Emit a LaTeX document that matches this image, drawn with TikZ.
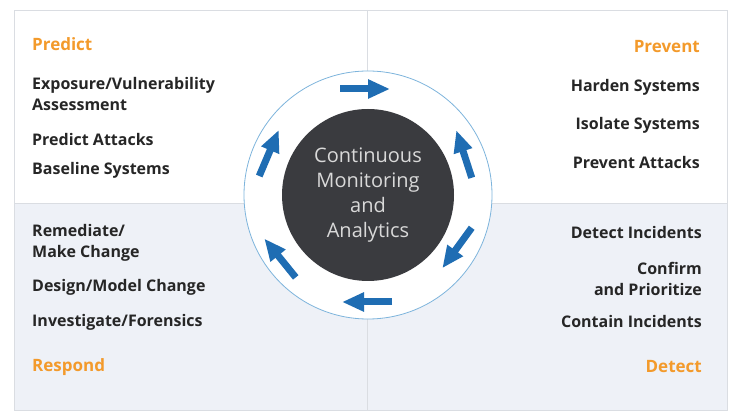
\documentclass[tikz,border=0pt]{standalone}
\usepackage{fontspec}
\setmainfont{Open Sans}
\usetikzlibrary{arrows.meta,calc}
\definecolor{orangehead}{HTML}{F39A2B}
\definecolor{cyclearrow}{HTML}{1F6DB3}
\definecolor{ringblue}{HTML}{7DB4DC}
\definecolor{corecircle}{HTML}{3A3B3F}
\definecolor{lowfill}{HTML}{EEF1F7}
\definecolor{gridline}{HTML}{DADDE2}
\tikzset{
  heading/.style={font=\fontsize{17}{20}\selectfont\bfseries, text=orangehead, inner sep=0pt},
  item/.style={font=\fontsize{16}{21}\selectfont\bfseries, text=black!85, inner sep=0pt},
  cycle arrow/.style={draw=cyclearrow, line width=7pt, -{Triangle[width=18pt,length=22pt]}}
}
\begin{document}
\begin{tikzpicture}[x=1pt,y=-1pt]
\useasboundingbox (0,0) rectangle (736,419);

% Quadrant panels
\fill[lowfill] (14,203) rectangle (727,410);
\draw[gridline] (14,10) rectangle (727,410);
\draw[gridline] (14,203) -- (727,203);
\draw[gridline] (367,10) -- (367,410);

% Ring and core
\node[circle, draw=ringblue, fill=white, line width=0.8pt, minimum size=248pt] (ring) at (368,195) {};
\node[circle, fill=corecircle, minimum size=172pt, align=center, text=white!85!black,
  font=\fontsize{20}{25}\selectfont] (core) at (368,195) {Continuous\\Monitoring\\and\\Analytics};

% Arrows round the ring
\foreach \cx/\cy/\dir in {365/89/0, 464/154/108, 457/248/234, 367/302/180, 280/258/129, 269/153/67}{
  \coordinate (mid) at (\cx,\cy);
  \draw[cycle arrow] ($(mid)+(-\dir:-25)$) -- ($(mid)+(-\dir:25)$);
}

% Predict
\node[heading, anchor=west] (predict) at (32,44) {Predict};
\node[item, anchor=north west, align=left] (expo) at (32,77) {Exposure/Vulnerability\\Assessment};
\node[item, anchor=west] (attacks) at (32,140) {Predict Attacks};
\node[item, anchor=west] (baseline) at (32,170) {Baseline Systems};

% Prevent
\node[heading, anchor=east] (prevent) at (700,47) {Prevent};
\node[item, anchor=east] (harden) at (700,87) {Harden Systems};
\node[item, anchor=east] (isolate) at (700,125) {Isolate Systems};
\node[item, anchor=east] (prevatt) at (700,163) {Prevent Attacks};

% Respond
\node[item, anchor=north west, align=left] (remed) at (32,224) {Remediate/\\Make Change};
\node[item, anchor=west] (design) at (32,287) {Design/Model Change};
\node[item, anchor=west] (invest) at (32,322) {Investigate/Forensics};
\node[heading, anchor=west] (respond) at (32,367) {Respond};

% Detect
\node[item, anchor=east] (detinc) at (702,233) {Detect Incidents};
\node[item, anchor=north east, align=right] (confirm) at (702,262) {Confirm\\and Prioritize};
\node[item, anchor=east] (contain) at (702,322) {Contain Incidents};
\node[heading, anchor=east] (detect) at (702,367) {Detect};
\end{tikzpicture}
\end{document}
